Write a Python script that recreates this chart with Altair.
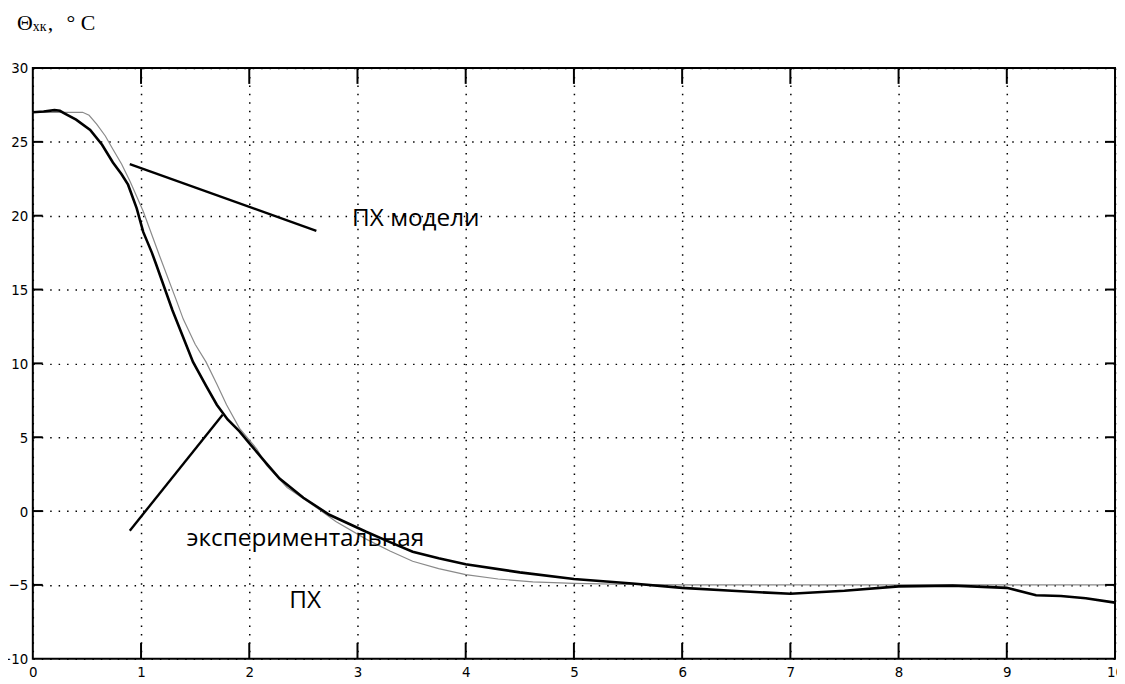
import altair as alt
import pandas as pd

# Experimental transfer characteristic (thick black)
exp_t = [0, 0.1, 0.2, 0.25, 0.3, 0.4, 0.53, 0.64, 0.74, 0.82, 0.88, 0.96, 1.02, 1.1, 1.14,
         1.29, 1.48, 1.6, 1.7, 1.8, 1.91, 2.0, 2.15, 2.28, 2.5, 2.74, 3.08, 3.3, 3.51, 3.75,
         4.0, 4.5, 5.0, 5.54, 6.0, 6.46, 7.0, 7.5, 8.0, 8.5, 9.0, 9.27, 9.5, 9.73, 10.0]
exp_v = [27.0, 27.05, 27.15, 27.1, 26.9, 26.5, 25.8, 24.8, 23.6, 22.8, 22.1, 20.5, 18.9, 17.5, 16.7,
         13.6, 10.1, 8.5, 7.2, 6.2, 5.4, 4.6, 3.3, 2.2, 0.9, -0.25, -1.4, -2.1, -2.75, -3.2,
         -3.6, -4.15, -4.6, -4.9, -5.2, -5.4, -5.6, -5.4, -5.1, -5.05, -5.2, -5.7, -5.75, -5.9, -6.2]

# Model transfer characteristic (thin gray)
mod_t = [0, 0.46, 0.52, 0.59, 0.67, 0.74, 0.82, 0.9, 1.02, 1.17, 1.33, 1.39, 1.5, 1.6, 1.7,
         1.79, 1.91, 2.07, 2.16, 2.35, 2.59, 2.8, 3.08, 3.3, 3.51, 3.75, 4.0, 4.3, 4.62, 5.0,
         5.5, 6.0, 7.0, 8.0, 9.0, 10.0]
mod_v = [27.0, 27.0, 26.8, 26.2, 25.4, 24.5, 23.5, 22.3, 20.3, 17.3, 14.2, 13.0, 11.3, 10.1, 8.6,
         7.2, 5.6, 4.2, 3.1, 1.6, 0.4, -0.7, -1.9, -2.7, -3.4, -3.9, -4.3, -4.6, -4.8, -4.9,
         -4.97, -5.0, -5.0, -5.0, -5.0, -5.0]

x_ticks = [0, 1, 2, 3, 4, 5, 6, 7, 8, 9, 10]
y_ticks = [-10, -5, 0, 5, 10, 15, 20, 25, 30]

# Annotation pointers (data coords)
ptr1_t = [0.896, 2.62]
ptr1_v = [23.5, 18.97]
ptr2_t = [0.896, 1.754]
ptr2_v = [-1.33, 6.52]

labels_text = ["ПХ модели", "экспериментальная", "ПХ"]
labels_t = [2.95, 1.42, 2.37]
labels_v = [19.8, -1.87, -6.1]

W, H = 1090, 595
TICK_FONT = "DejaVu Sans Condensed, Liberation Sans Narrow, sans-serif"

xs = alt.Scale(domain=[0, 10], nice=False, zero=False)
ys = alt.Scale(domain=[-10, 30], nice=False, zero=False)

df_exp = pd.DataFrame({"t": exp_t, "v": exp_v})
df_mod = pd.DataFrame({"t": mod_t, "v": mod_v})

base_x = alt.X("t:Q", scale=xs, axis=alt.Axis(
    values=x_ticks, title=None, tickSize=0, domain=False, labelPadding=6, format="d",
    labelFont=TICK_FONT, labelFontSize=15, labelColor="black",
    grid=True, gridColor="black", gridDash=[1.5, 7], gridWidth=1.5, labelFlush=False))
base_y = alt.Y("v:Q", scale=ys, axis=alt.Axis(
    values=y_ticks, title=None, tickSize=0, domain=False, labelPadding=5, format="d",
    labelFont=TICK_FONT, labelFontSize=15, labelColor="black",
    grid=True, gridColor="black", gridDash=[1.5, 7], gridWidth=1.5))

model = alt.Chart(df_mod).mark_line(color="#8a8a8a", strokeWidth=1.2).encode(x=base_x, y=base_y)
exper = alt.Chart(df_exp).mark_line(color="black", strokeWidth=2.6).encode(
    x=alt.X("t:Q", scale=xs), y=alt.Y("v:Q", scale=ys))

df_p1 = pd.DataFrame({"t": ptr1_t, "v": ptr1_v})
df_p2 = pd.DataFrame({"t": ptr2_t, "v": ptr2_v})
p1 = alt.Chart(df_p1).mark_line(color="black", strokeWidth=2.4).encode(
    x=alt.X("t:Q", scale=xs), y=alt.Y("v:Q", scale=ys))
p2 = alt.Chart(df_p2).mark_line(color="black", strokeWidth=2.4).encode(
    x=alt.X("t:Q", scale=xs), y=alt.Y("v:Q", scale=ys))

df_lab = pd.DataFrame({"t": labels_t, "v": labels_v, "txt": labels_text})
labs = alt.Chart(df_lab).mark_text(align="left", baseline="middle", font="Open Sans",
                                   fontSize=24.5, color="black").encode(
    x=alt.X("t:Q", scale=xs), y=alt.Y("v:Q", scale=ys), text="txt:N")

# inward ticks
df_xt = pd.DataFrame({"t": x_ticks[1:-1]})
df_yt = pd.DataFrame({"v": y_ticks[1:-1]})
xt_bot = alt.Chart(df_xt).mark_rule(color="black", strokeWidth=2).encode(
    x=alt.X("t:Q", scale=xs), y=alt.value(H), y2=alt.value(H - 16))
xt_top = alt.Chart(df_xt).mark_rule(color="black", strokeWidth=2).encode(
    x=alt.X("t:Q", scale=xs), y=alt.value(0), y2=alt.value(16))
yt_left = alt.Chart(df_yt).mark_rule(color="black", strokeWidth=2).encode(
    y=alt.Y("v:Q", scale=ys), x=alt.value(0), x2=alt.value(10))
yt_right = alt.Chart(df_yt).mark_rule(color="black", strokeWidth=2).encode(
    y=alt.Y("v:Q", scale=ys), x=alt.value(W), x2=alt.value(W - 10))

# Y-axis title pieces: Θ_хк, ° C
df_title = pd.DataFrame({"a": [0]})
t1 = alt.Chart(df_title).mark_text(align="left", baseline="alphabetic", font="Liberation Serif",
                                   fontSize=22, color="black").encode(
    x=alt.value(-16), y=alt.value(-38), text=alt.value("Θ"))
t2 = alt.Chart(df_title).mark_text(align="left", baseline="alphabetic", font="Liberation Serif",
                                   fontSize=14, color="black").encode(
    x=alt.value(0), y=alt.value(-37), text=alt.value("хк"))
t3 = alt.Chart(df_title).mark_text(align="left", baseline="alphabetic", font="Liberation Serif",
                                   fontSize=22, color="black").encode(
    x=alt.value(15), y=alt.value(-38), text=alt.value(","))
t4 = alt.Chart(df_title).mark_text(align="left", baseline="alphabetic", font="Liberation Serif",
                                   fontSize=22, color="black").encode(
    x=alt.value(34), y=alt.value(-38), text=alt.value("° C"))

chart = alt.layer(model, exper, p1, p2, labs, xt_bot, xt_top, yt_left, yt_right,
                  t1, t2, t3, t4).properties(
    width=W, height=H,
    autosize=alt.AutoSizeParams(type="none"),
    padding={"left": 25, "top": 58, "right": 2, "bottom": 26},
    background="white",
).configure_view(stroke="black", strokeWidth=2)

chart.save("out.html", embed_options={"renderer": "svg", "actions": False})
